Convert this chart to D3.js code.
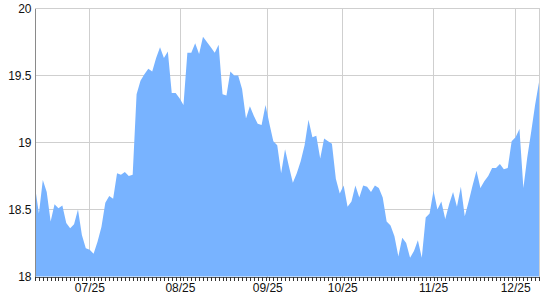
<!DOCTYPE html>
<html>
<head>
<meta charset="utf-8">
<script src="https://cdn.jsdelivr.net/npm/d3@7/dist/d3.min.js"></script>
<style>
  html, body { margin: 0; padding: 0; background: #ffffff; }
  svg { display: block; }
  text { font-family: "Liberation Sans", Arial, sans-serif; font-size: 12px; fill: #111; }
</style>
</head>
<body>
<script>
// Daily values (one per trading day)
const values = [
  18.67, 18.47, 18.72, 18.63, 18.41, 18.54, 18.51, 18.53, 18.40, 18.36,
  18.39, 18.50, 18.31, 18.21, 18.20, 18.17, 18.26, 18.37, 18.55, 18.60,
  18.58, 18.77, 18.76, 18.78, 18.75, 18.76, 19.36, 19.46, 19.51, 19.55,
  19.53, 19.63, 19.71, 19.63, 19.68, 19.37, 19.37, 19.33, 19.28, 19.67,
  19.67, 19.74, 19.66, 19.79, 19.75, 19.71, 19.67, 19.73, 19.36, 19.35,
  19.53, 19.50, 19.50, 19.40, 19.18, 19.27, 19.20, 19.14, 19.13, 19.28,
  19.14, 19.01, 18.98, 18.77, 18.95, 18.82, 18.70, 18.77, 18.86, 18.98,
  19.17, 19.04, 19.05, 18.88, 19.03, 19.01, 18.99, 18.73, 18.62, 18.68,
  18.52, 18.56, 18.68, 18.59, 18.68, 18.67, 18.63, 18.68, 18.66, 18.59,
  18.41, 18.38, 18.30, 18.15, 18.29, 18.25, 18.14, 18.19, 18.27, 18.14,
  18.44, 18.47, 18.64, 18.50, 18.56, 18.43, 18.54, 18.63, 18.52, 18.67,
  18.45, 18.56, 18.68, 18.79, 18.66, 18.71, 18.75, 18.81, 18.81, 18.84,
  18.80, 18.81, 19.01, 19.04, 19.10, 18.66, 18.89, 19.08, 19.28, 19.45
];

// Date tick labels and where each date falls along the series (point index)
const xTickLabels = ["07/25", "08/25", "09/25", "10/25", "11/25", "12/25"];
const xTickIndex  = [13.9, 37.1, 59.45, 78.65, 101.9, 122.9];

// Value axis
const yDomain = [18, 20];
const yTicks = [18, 18.5, 19, 19.5, 20];

const W = 540, H = 300;
const plotLeft = 34.5, plotRight = 539.5, plotTop = 8.5, plotBottom = 276.5;

const svg = d3.select("body").append("svg")
  .attr("width", W).attr("height", H);

const x = d3.scaleLinear().domain([0, values.length - 1]).range([35, 539]);
const y = d3.scaleLinear().domain(yDomain).range([plotBottom, plotTop]);

// Grid
const grid = svg.append("g").attr("stroke", "#cfcfcf").attr("stroke-width", 1).attr("shape-rendering", "crispEdges");
grid.selectAll("line.h").data(yTicks.filter(d => d > yDomain[0])).join("line")
  .attr("class", "h")
  .attr("x1", plotLeft).attr("x2", plotRight)
  .attr("y1", d => y(d)).attr("y2", d => y(d));
grid.selectAll("line.v").data(xTickIndex).join("line")
  .attr("class", "v")
  .attr("x1", d => Math.round(x(d)) + 0.5).attr("x2", d => Math.round(x(d)) + 0.5)
  .attr("y1", plotTop).attr("y2", plotBottom);
grid.append("line").attr("x1", plotRight).attr("x2", plotRight).attr("y1", plotTop).attr("y2", plotBottom);

// Area
const area = d3.area()
  .x((d, i) => x(i))
  .y0(y(yDomain[0]))
  .y1(d => y(d));
svg.append("path")
  .datum(values)
  .attr("fill", "#78b3ff")
  .attr("stroke", "none")
  .attr("d", area);

// Left axis
const yAxis = d3.axisLeft(y).tickValues(yTicks).tickSize(0).tickPadding(3)
  .tickFormat(d => String(d));
const gy = svg.append("g").attr("transform", `translate(${plotLeft},0)`).call(yAxis);
gy.select(".domain").attr("stroke", "#8a8a8a").attr("shape-rendering", "crispEdges");
gy.selectAll("text").attr("fill", "#111").style("font-size", "12px").attr("dy", "0.34em");

// Bottom axis: tick mark at each point
const xMarks = d3.axisBottom(x).tickValues(d3.range(values.length)).tickSize(4).tickFormat("").tickSizeOuter(0);
const gm = svg.append("g").attr("transform", `translate(0,${plotBottom})`).call(xMarks);
gm.select(".domain").attr("stroke", "#555").attr("shape-rendering", "crispEdges");
gm.selectAll(".tick line").attr("stroke", "#333").attr("shape-rendering", "crispEdges");

// Bottom axis labels
const xLabels = d3.axisBottom(x).tickValues(xTickIndex).tickSize(0).tickPadding(6.5)
  .tickFormat((d, i) => xTickLabels[i]);
const gx = svg.append("g").attr("transform", `translate(0,${plotBottom})`).call(xLabels);
gx.select(".domain").remove();
gx.selectAll("text").attr("fill", "#111").style("font-size", "12px");
</script>
</body>
</html>
